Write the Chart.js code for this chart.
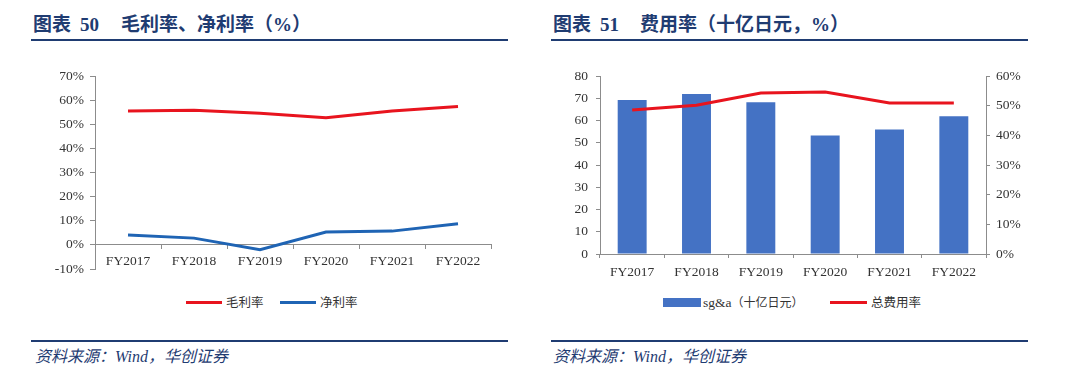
<!DOCTYPE html>
<html><head><meta charset="utf-8">
<script src="https://cdn.jsdelivr.net/npm/chart.js@4"></script>
<style>
html,body{margin:0;padding:0;background:#fff;width:1080px;height:388px;overflow:hidden;position:relative;font-family:"Liberation Serif","Noto Sans CJK SC",serif;}
.abs{position:absolute;white-space:nowrap;}
.title{font-size:19px;font-weight:bold;color:#1f3c72;line-height:22px;top:14px;font-family:"Liberation Serif","Noto Sans CJK SC",serif;}
.rule{position:absolute;height:2px;background:#1f3c72;}
.foot{font-size:16px;font-style:italic;color:#1f3c72;line-height:20px;top:347px;font-family:"Liberation Serif","Noto Sans CJK SC",serif;}
.leg{font-size:12.5px;color:#333;line-height:16px;top:294px;font-family:"Noto Sans CJK SC",sans-serif;}
.sw{position:absolute;}
canvas{position:absolute;}
</style></head>
<body>
<div class="abs title" style="left:33px">图表</div>
<div class="abs title" style="left:80px">50</div>
<div class="abs title" style="left:121px">毛利率、净利率（%）</div>
<div class="rule" style="left:31px;width:477px;top:39px"></div>

<div class="abs title" style="left:553px">图表</div>
<div class="abs title" style="left:600px">51</div>
<div class="abs title" style="left:640px">费用率（十亿日元，%）</div>
<div class="rule" style="left:551px;width:477px;top:39px"></div>

<canvas id="c1" width="460" height="225" style="left:40px;top:60px"></canvas>
<canvas id="c2" width="477" height="225" style="left:560px;top:60px"></canvas>

<div class="sw" style="left:186px;top:301px;width:36px;height:3px;background:#e8141e"></div>
<div class="abs leg" style="left:226px">毛利率</div>
<div class="sw" style="left:280px;top:301px;width:36px;height:3px;background:#1f64b4"></div>
<div class="abs leg" style="left:320px">净利率</div>

<div class="sw" style="left:663px;top:298px;width:38px;height:9px;background:#4472c4"></div>
<div class="abs leg" style="left:703px"><span style="font-family:'Liberation Serif',serif;font-size:13.5px">sg&amp;a</span><span style="font-size:12px">（十亿日元）</span></div>
<div class="sw" style="left:830px;top:301px;width:37px;height:3px;background:#e8141e"></div>
<div class="abs leg" style="left:871px">总费用率</div>

<div class="rule" style="left:31px;width:477px;top:340px"></div>
<div class="rule" style="left:551px;width:477px;top:340px"></div>
<div class="abs foot" style="left:35px">资料来源：Wind，华创证券</div>
<div class="abs foot" style="left:553px">资料来源：Wind，华创证券</div>

<script>
const categories = ['FY2017','FY2018','FY2019','FY2020','FY2021','FY2022'];
const grossMargin = [55.5, 55.8, 54.6, 52.7, 55.5, 57.4];
const netMargin = [4.1, 2.8, -2.0, 5.3, 5.7, 8.8];
const sgaValues = [69.2, 72.0, 68.2, 53.3, 56.0, 61.9];
const expenseRatio = [48.6, 50.2, 54.3, 54.6, 50.9, 50.9];

Chart.defaults.font.family = "'Liberation Serif', 'Times New Roman', serif";
Chart.defaults.font.size = 13.5;
Chart.defaults.color = '#333';
const axisCol = '#8c8c8c';

new Chart(document.getElementById('c1'), {
  type: 'line',
  data: {
    labels: categories,
    datasets: [
      {label:'毛利率', data: grossMargin, borderColor:'#e8141e', backgroundColor:'#e8141e', borderWidth:3, pointRadius:0, tension:0},
      {label:'净利率', data: netMargin, borderColor:'#1f64b4', backgroundColor:'#1f64b4', borderWidth:3, pointRadius:0, tension:0}
    ]
  },
  options: {
    responsive:false, animation:false, devicePixelRatio:1,
    layout:{padding:{top:16,right:9,bottom:16,left:0}},
    plugins:{legend:{display:false}, tooltip:{enabled:false}},
    scales:{
      x:{position:{y:0}, offset:true,
         grid:{display:true, offset:true, drawOnChartArea:false, drawTicks:true, tickLength:4, color:axisCol},
         border:{display:true, color:axisCol, width:1},
         ticks:{padding:4, color:'#333'}},
      y:{min:-10, max:70,
         grid:{display:true, drawOnChartArea:false, drawTicks:true, tickLength:5, color:axisCol},
         border:{display:true, color:axisCol, width:1},
         ticks:{stepSize:10, padding:6, color:'#333', callback:v=>v+'%'},
         afterFit:s=>{s.width=55;}}
    }
  }
});

new Chart(document.getElementById('c2'), {
  type: 'bar',
  data: {
    labels: categories,
    datasets: [
      {type:'line', label:'总费用率', data: expenseRatio, yAxisID:'y1', borderColor:'#e8141e', backgroundColor:'#e8141e', borderWidth:3, pointRadius:0, tension:0, order:0},
      {type:'bar', label:'sg&a（十亿日元）', data: sgaValues, yAxisID:'y', backgroundColor:'#4472c4', categoryPercentage:0.45, barPercentage:1, order:1}
    ]
  },
  options: {
    responsive:false, animation:false, devicePixelRatio:1,
    layout:{padding:{top:16,right:0,bottom:9,left:0}},
    plugins:{legend:{display:false}, tooltip:{enabled:false}},
    scales:{
      x:{offset:true,
         grid:{display:true, offset:true, drawOnChartArea:false, drawTicks:true, tickLength:4, color:axisCol},
         border:{display:true, color:axisCol, width:1},
         ticks:{padding:6, color:'#333'},
         afterFit:s=>{s.height=22;}},
      y:{position:'left', min:0, max:80,
         grid:{display:true, drawOnChartArea:false, drawTicks:true, tickLength:4, color:axisCol},
         border:{display:true, color:axisCol, width:1},
         ticks:{stepSize:10, padding:8, color:'#333'},
         afterFit:s=>{s.width=40;}},
      y1:{position:'right', min:0, max:60,
         grid:{display:true, drawOnChartArea:false, drawTicks:true, tickLength:4, color:axisCol},
         border:{display:true, color:axisCol, width:1},
         ticks:{stepSize:10, padding:6, color:'#333', callback:v=>v+'%'},
         afterFit:s=>{s.width=51;}}
    }
  }
});
</script>
</body></html>
